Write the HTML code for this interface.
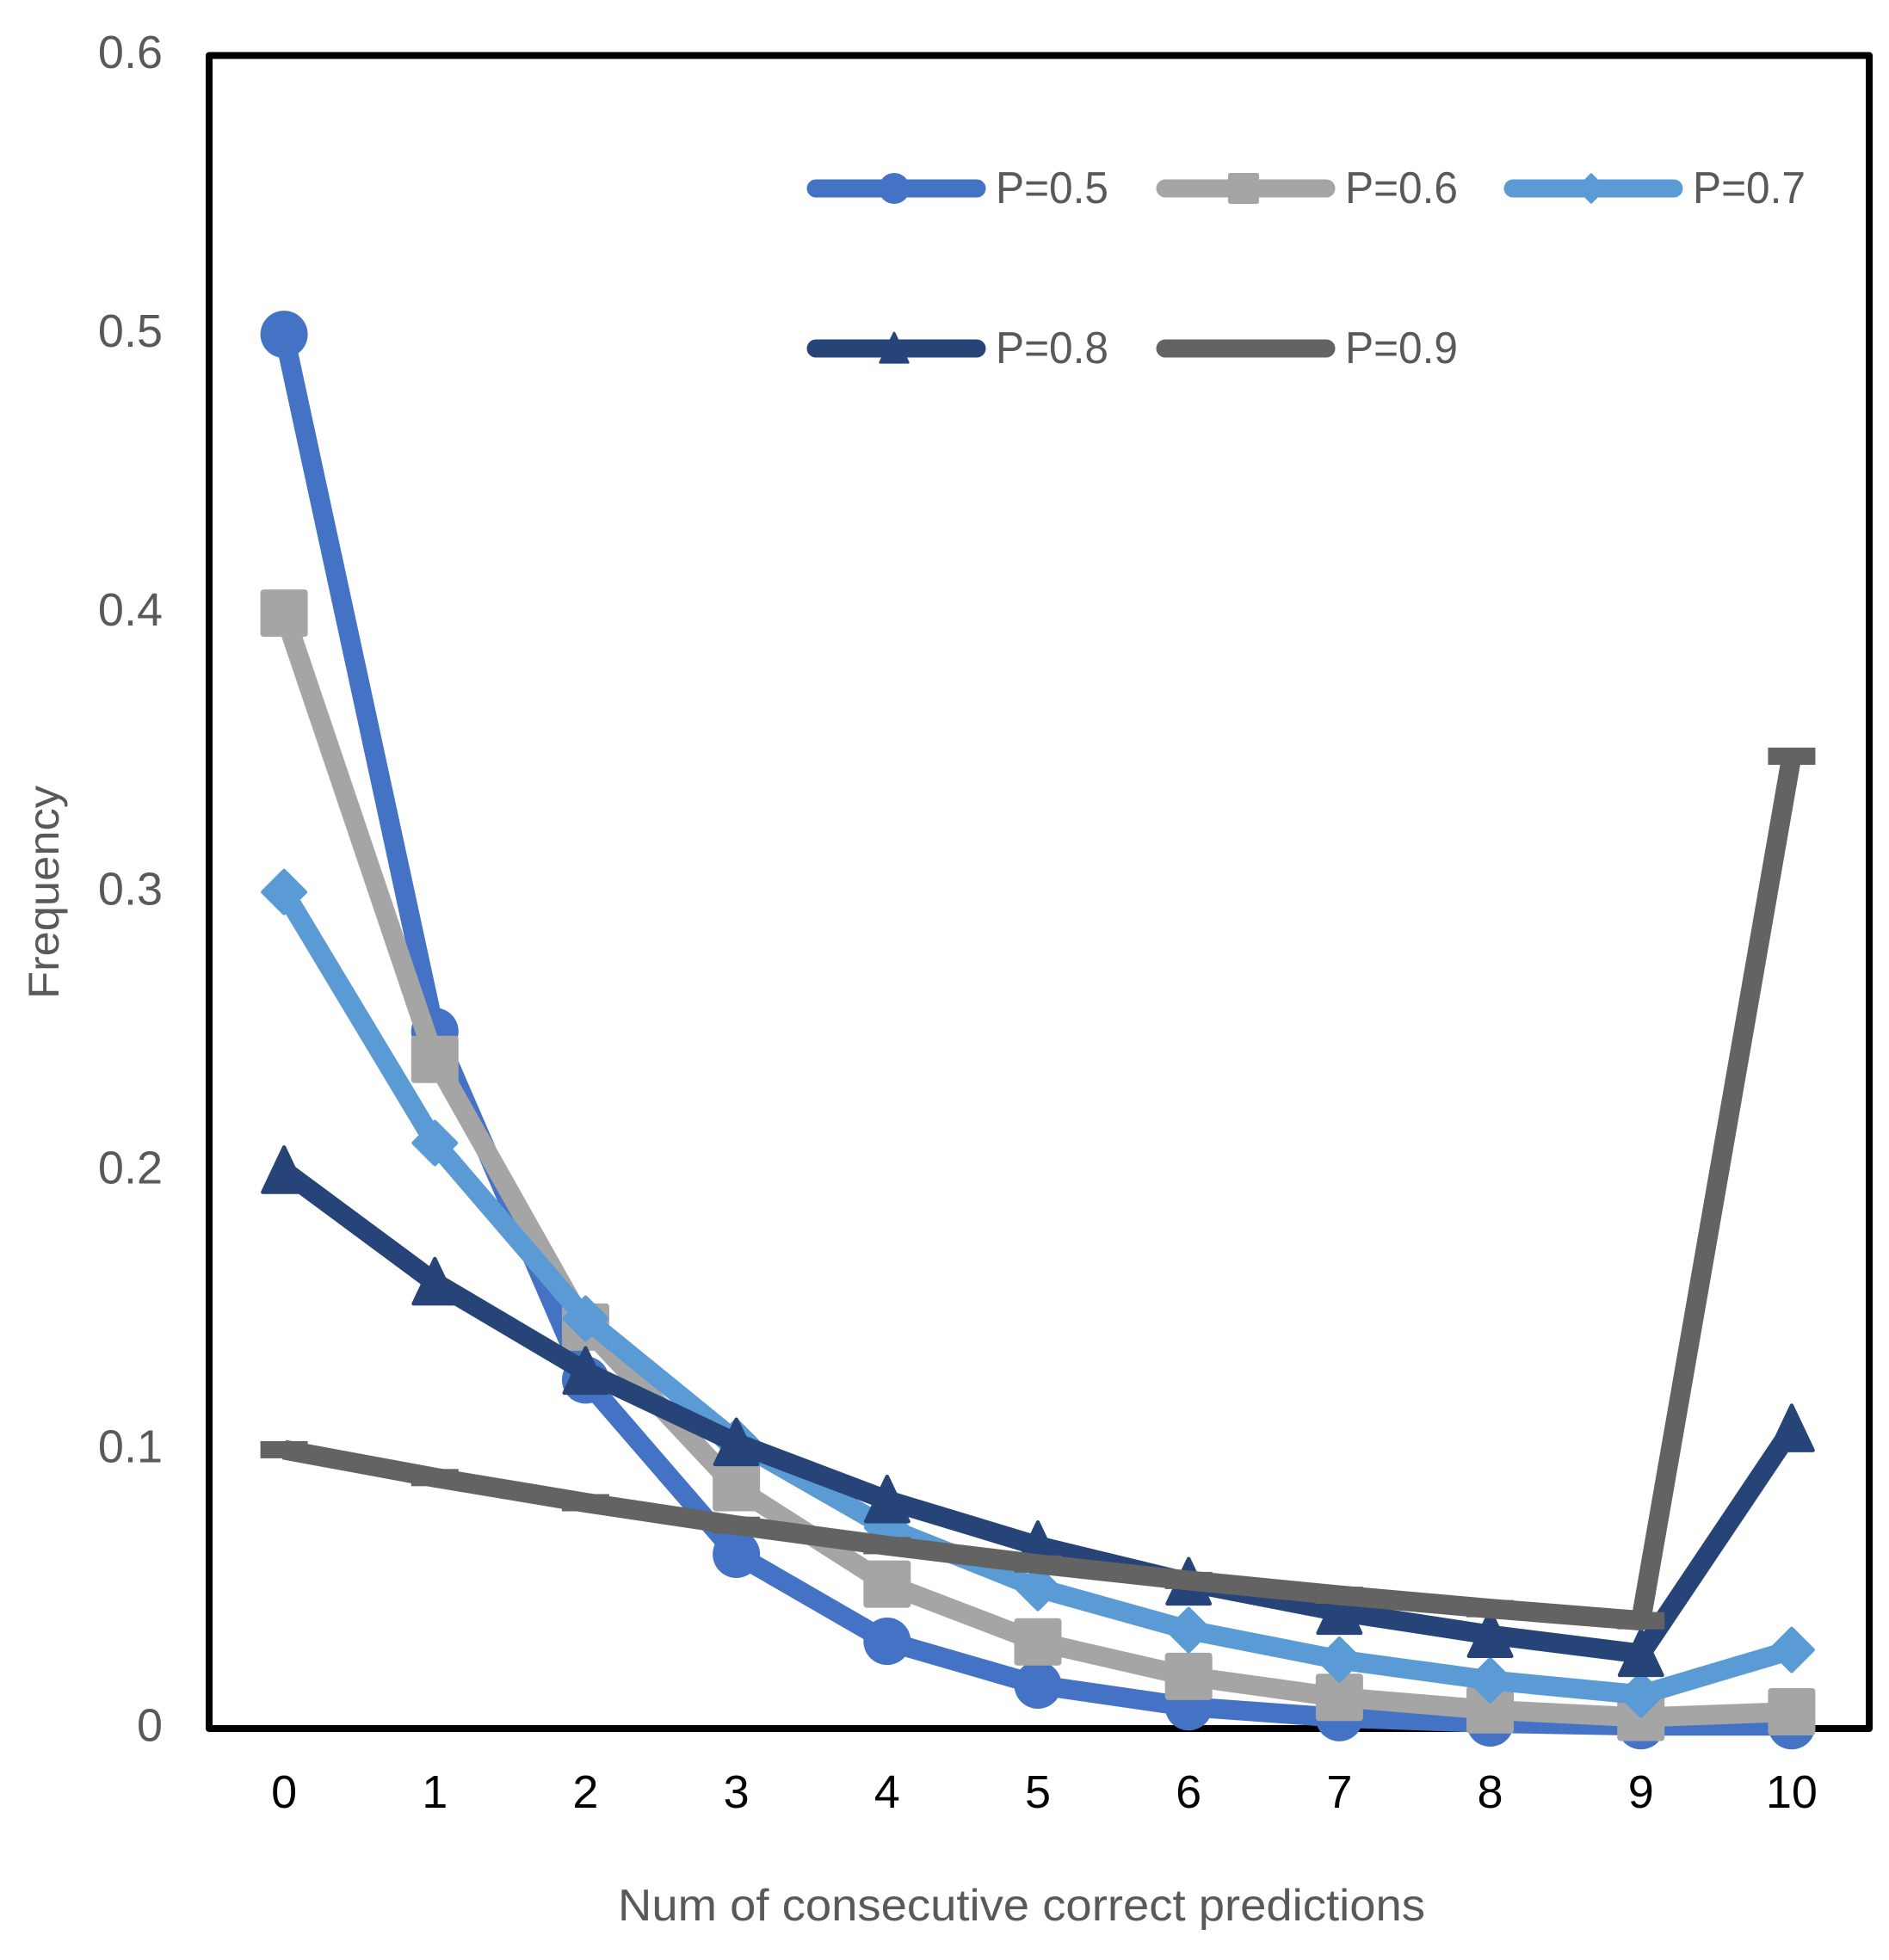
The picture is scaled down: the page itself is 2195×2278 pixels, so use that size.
<!DOCTYPE html>
<html lang="en">
<head>
<meta charset="utf-8">
<title>Frequency of consecutive correct predictions</title>
<style>
html,body{margin:0;padding:0;background:#fff;width:2195px;height:2278px;overflow:hidden}
svg{display:block}
text{font-family:"Liberation Sans",sans-serif}
</style>
</head>
<body>
<svg id="chart" xmlns="http://www.w3.org/2000/svg" width="2195" height="2278" viewBox="0 0 2195 2278">
  <rect x="0" y="0" width="2195" height="2278" fill="#ffffff"/>
  <rect x="243" y="64.5" width="1929" height="1944.5" fill="none" stroke="#000000" stroke-width="8" stroke-linejoin="round"/>
  <text transform="translate(68,1037) rotate(-90)" text-anchor="middle" font-size="50" fill="#595959" textLength="248" lengthAdjust="spacingAndGlyphs">Frequency</text>
  <text x="1187" y="2232" text-anchor="middle" font-size="52" fill="#595959" textLength="938" lengthAdjust="spacingAndGlyphs">Num of consecutive correct predictions</text>
  <g id="y-ticks"></g>
  <g id="x-ticks"></g>
  <g id="series"></g>
  <g id="legend"></g>
</svg>
<script>
const categories = [0, 1, 2, 3, 4, 5, 6, 7, 8, 9, 10];
const yTickValues = [0, 0.1, 0.2, 0.3, 0.4, 0.5, 0.6];
const seriesNames = ['P=0.5', 'P=0.6', 'P=0.7', 'P=0.8', 'P=0.9'];
const seriesP5 = [0.5, 0.25, 0.125, 0.0625, 0.0313, 0.0156, 0.0078, 0.0039, 0.002, 0.001, 0.001];
const seriesP6 = [0.4, 0.24, 0.144, 0.0864, 0.0518, 0.0311, 0.0187, 0.0112, 0.0067, 0.004, 0.006];
const seriesP7 = [0.3, 0.21, 0.147, 0.103, 0.072, 0.0504, 0.0353, 0.0247, 0.0173, 0.0121, 0.0282];
const seriesP8 = [0.2, 0.16, 0.128, 0.1024, 0.0819, 0.0655, 0.0524, 0.0419, 0.0336, 0.0268, 0.1074];
const seriesP9 = [0.1, 0.09, 0.081, 0.0729, 0.0656, 0.059, 0.0531, 0.0478, 0.043, 0.0387, 0.3487];

const NS = 'http://www.w3.org/2000/svg';
const PLOT = { left: 242.5, right: 2169.5, top: 64.5, bottom: 2009, yMax: 0.6 };
const allSeries = [seriesP5, seriesP6, seriesP7, seriesP8, seriesP9];
const colors = ['#4472c4', '#a5a5a5', '#5b9bd5', '#264478', '#636363'];
const shapes = ['circle', 'square', 'diamond', 'triangle', 'dash'];

function xScale(i) {
  return PLOT.left + (i + 0.5) * (PLOT.right - PLOT.left) / categories.length;
}
function yScale(v) {
  return PLOT.bottom - (v / PLOT.yMax) * (PLOT.bottom - PLOT.top);
}
function make(tag, attrs, parent) {
  const el = document.createElementNS(NS, tag);
  for (const k in attrs) el.setAttribute(k, attrs[k]);
  parent.appendChild(el);
  return el;
}
function drawMarker(shape, cx, cy, size, color, parent) {
  const h = size / 2;
  if (shape === 'circle') {
    return make('circle', { cx: cx, cy: cy, r: h, fill: color }, parent);
  }
  if (shape === 'square') {
    return make('rect', { x: cx - h, y: cy - h, width: size, height: size, rx: size * 0.07, fill: color }, parent);
  }
  if (shape === 'diamond') {
    const d = h - size * 0.05;
    const pts = [cx, cy - d, cx + d, cy, cx, cy + d, cx - d, cy].join(' ');
    return make('polygon', { points: pts, fill: color, stroke: color, 'stroke-width': size * 0.08, 'stroke-linejoin': 'round' }, parent);
  }
  if (shape === 'triangle') {
    const w = h - size * 0.05;
    const pts = [cx, cy - h, cx + w, cy + h - size * 0.05, cx - w, cy + h - size * 0.05].join(' ');
    return make('polygon', { points: pts, fill: color, stroke: color, 'stroke-width': size * 0.08, 'stroke-linejoin': 'round' }, parent);
  }
  return make('rect', { x: cx - h, y: cy - 10, width: size, height: 20, fill: color }, parent);
}

const yTicksGroup = document.getElementById('y-ticks');
yTickValues.forEach(function (v) {
  const t = make('text', { x: 189, y: yScale(v) + 14.5, 'text-anchor': 'end', 'font-size': 54, fill: '#595959' }, yTicksGroup);
  
  
  t.textContent = String(v);
});

const xTicksGroup = document.getElementById('x-ticks');
categories.forEach(function (c, i) {
  const t = make('text', { x: xScale(i), y: 2101, 'text-anchor': 'middle', 'font-size': 54, fill: '#000000' }, xTicksGroup);
  
  
  t.textContent = String(c);
});

const seriesGroup = document.getElementById('series');
allSeries.forEach(function (values, s) {
  const g = make('g', {}, seriesGroup);
  
  
  const pts = values.map(function (v, i) { return xScale(i).toFixed(1) + ',' + yScale(v).toFixed(1); }).join(' ');
  const line = make('polyline', { points: pts, fill: 'none', stroke: colors[s], 'stroke-width': 23, 'stroke-linejoin': 'round', 'stroke-linecap': 'butt' }, g);
  
  
  values.forEach(function (v, i) {
    const m = drawMarker(shapes[s], xScale(i), yScale(v), 55, colors[s], g);
    
    
  });
});

const legendGroup = document.getElementById('legend');
const legendStartX = [938, 1344, 1748, 938, 1344];
const legendRowY = [219, 219, 219, 405, 405];
seriesNames.forEach(function (name, s) {
  const g = make('g', {}, legendGroup);
  
  
  const x0 = legendStartX[s];
  const y0 = legendRowY[s];
  const line = make('line', { x1: x0 + 10, y1: y0, x2: x0 + 197, y2: y0, stroke: colors[s], 'stroke-width': 21, 'stroke-linecap': 'round' }, g);
  
  
  const mk = drawMarker(shapes[s], x0 + 101, y0, 36, colors[s], g);
  
  
  const t = make('text', { x: x0 + 219, y: y0 + 17, 'font-size': 52, fill: '#595959', textLength: 131, lengthAdjust: 'spacingAndGlyphs' }, g);
  
  
  t.textContent = name;
});
</script>
</body>
</html>
